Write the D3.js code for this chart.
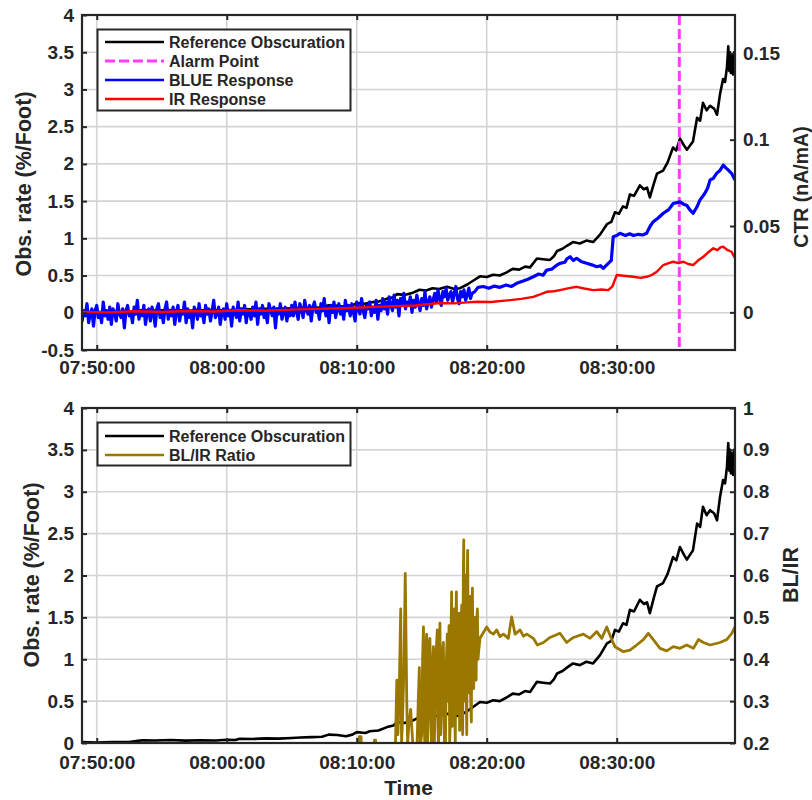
<!DOCTYPE html>
<html>
<head>
<meta charset="utf-8">
<script src="https://cdn.jsdelivr.net/npm/d3@7"></script>
<style>
  body { margin: 0; background: #fff; }
  svg text { font-family: "Liberation Sans", Arial, Helvetica, sans-serif; font-weight: bold; fill: #262626; }
</style>
</head>
<body>
<svg id="chart"></svg>
<script>
const w = 812;
const h = 800;

const parseTime = d3.timeParse("%H:%M:%S");

// x range and ticks
const timeRange = ["07:48:52", "08:39:06"];
const alarmTime = "08:34:49";

// top panel axes
const obsTicksTop = [-0.5, 0, 0.5, 1, 1.5, 2, 2.5, 3, 3.5, 4];
const ctrTicks = [0, 0.05, 0.1, 0.15];
const ctrRange = [-0.0218, 0.1722];
// bottom panel axes
const obsTicksBottom = [0, 0.5, 1, 1.5, 2, 2.5, 3, 3.5, 4];
const ratioTicks = [0.2, 0.3, 0.4, 0.5, 0.6, 0.7, 0.8, 0.9, 1];

// Reference Obscuration (%/Foot)
const obsData = [
  ["07:48:52",0.01],["07:50:00",0.005],["07:51:10",0.01],["07:52:30",0.012],["07:53:10",0.025],["07:53:30",0.032],
  ["07:54:30",0.03],["07:55:40",0.035],["07:56:50",0.028],["07:58:00",0.033],["07:59:10",0.03],["08:00:00",0.038],
  ["08:00:40",0.035],["08:01:00",0.05],["08:02:00",0.048],["08:03:00",0.055],["08:04:00",0.052],["08:05:00",0.06],
  ["08:05:40",0.065],["08:06:30",0.07],["08:07:20",0.075],["08:07:50",0.1],["08:08:30",0.095],["08:09:10",0.08],
  ["08:09:40",0.1],["08:10:00",0.13],["08:10:40",0.12],["08:11:00",0.14],["08:11:40",0.15],["08:12:20",0.19],
  ["08:12:50",0.21],["08:13:05",0.25],["08:13:40",0.24],["08:14:20",0.27],["08:14:50",0.31],["08:15:20",0.3],
  ["08:15:50",0.33],["08:16:20",0.32],["08:16:57",0.35],["08:17:30",0.32],["08:17:57",0.33],["08:18:30",0.38],
  ["08:18:57",0.43],["08:19:29",0.49],["08:20:00",0.48],["08:20:30",0.51],["08:21:00",0.5],["08:21:30",0.54],
  ["08:22:00",0.59],["08:22:30",0.58],["08:22:57",0.62],["08:23:20",0.61],["08:23:52",0.73],["08:24:20",0.72],
  ["08:24:52",0.71],["08:25:10",0.76],["08:25:25",0.83],["08:25:50",0.86],["08:26:10",0.9],["08:26:38",0.95],
  ["08:27:10",0.93],["08:27:40",0.97],["08:28:11",0.95],["08:28:43",1.05],["08:29:15",1.19],["08:29:35",1.22],
  ["08:29:52",1.35],["08:30:10",1.33],["08:30:29",1.43],["08:30:45",1.41],["08:31:01",1.59],["08:31:20",1.57],
  ["08:31:47",1.71],["08:32:05",1.66],["08:32:20",1.68],["08:32:33",1.55],["08:32:50",1.72],["08:33:06",1.87],
  ["08:33:34",1.91],["08:33:55",2.02],["08:34:20",2.22],["08:34:35",2.18],["08:34:52",2.34],["08:35:10",2.25],
  ["08:35:24",2.19],["08:35:52",2.3],["08:36:11",2.62],["08:36:25",2.58],["08:36:38",2.82],["08:36:55",2.72],
  ["08:37:11",2.78],["08:37:30",2.74],["08:37:43",2.66],["08:37:57",2.94],["08:38:11",3.14],["08:38:20",3.1],
  ["08:38:29",3.3],["08:38:35",3.58],["08:38:40",3.25],["08:38:43",3.5],["08:38:47",3.22],["08:38:51",3.46],
  ["08:38:57",3.2],["08:39:02",3.5],["08:39:06",3.4]
];

// BLUE response (CTR), noisy part sampled every 7.5 s from 07:48:45
const blueNoiseStart = "07:48:45";
const blueNoiseStepMs = 7500;
const blueNoise = [
  0.003,-0.005,0.001,-0.002,0.005,-0.006,-0.001,0.002,-0.008,0.001,0.004,-0.003,0.000,-0.006,0.006,-0.002,
  0.001,-0.004,0.003,-0.007,0.002,0.000,-0.005,0.005,-0.001,-0.003,0.002,-0.009,0.001,0.004,-0.002,0.000,
  -0.006,0.003,-0.001,0.007,-0.004,0.001,-0.002,0.004,-0.007,0.000,0.002,-0.005,0.003,-0.001,-0.008,0.002,
  0.005,-0.003,0.000,-0.006,0.002,0.006,-0.004,0.001,-0.002,0.003,-0.007,0.000,0.004,-0.005,0.001,-0.001,
  0.006,-0.006,0.002,-0.003,0.000,-0.009,0.003,0.001,-0.004,0.005,-0.002,0.000,-0.006,0.004,-0.001,0.002,
  -0.005,0.001,0.007,-0.003,-0.001,0.003,-0.007,0.000,0.002,-0.004,0.005,-0.002,0.001,-0.008,0.003,0.000,
  -0.003,0.006,-0.005,0.002,-0.001,0.004,-0.006,0.001,0.000,-0.004,0.003,-0.002,0.006,-0.007,0.002,-0.001,
  0.004,-0.003,0.000,-0.006,0.005,0.001,-0.002,0.003,-0.009,0.002,-0.001,0.005,-0.004,0.000,0.003,-0.005,
  0.001,-0.002,
  0.004,-0.002,0.006,0.000,-0.004,0.005,0.002,-0.003,0.007,0.001,-0.001,0.004,-0.005,0.003,0.006,0.000,
  0.002,-0.004,0.005,0.001,0.008,-0.002,0.003,-0.006,0.004,0.000,0.006,-0.003,0.002,0.005,-0.001,0.003,
  -0.004,0.007,0.001,0.004,-0.002,0.005,0.000,-0.005,0.006,0.002,-0.001,0.008,0.001,-0.003,0.004,0.002,
  0.006,-0.002,0.003,0.000,0.007,-0.004,0.004,0.001,
  0.008,0.002,0.006,-0.001,0.009,0.004,0.001,0.010,0.003,0.007,-0.002,0.008,0.005,0.011,0.002,0.006,
  0.004,0.009,0.000,0.007,0.003,0.010,0.005,0.001,0.008,0.004,0.012,0.002,0.006,0.009,0.003,0.007,
  0.011,0.006,0.013,0.008,0.004,0.012,0.009,0.014,0.007,0.010,0.012,0.006,0.011,0.015,0.008,0.005,
  0.012,0.009,0.013,0.007,0.010,0.014,0.008,0.011
];
const blueSmooth = [
  ["08:19:05",0.012],["08:19:20",0.0145],["08:19:44",0.0150],["08:20:10",0.0140],["08:20:35",0.0152],["08:21:01",0.0145],
  ["08:21:30",0.0158],["08:21:55",0.0150],["08:22:18",0.0168],["08:22:45",0.0180],["08:23:10",0.0192],["08:23:35",0.0206],
  ["08:24:00",0.0222],["08:24:20",0.0215],["08:24:37",0.0245],["08:25:00",0.0250],["08:25:20",0.0270],["08:25:38",0.0284],
  ["08:26:00",0.0290],["08:26:10",0.0310],["08:26:25",0.0322],["08:26:40",0.0300],["08:26:55",0.0313],["08:27:15",0.0295],
  ["08:27:41",0.0284],["08:28:05",0.0275],["08:28:28",0.0264],["08:28:45",0.0270],["08:28:58",0.0255],["08:29:21",0.0284],
  ["08:29:35",0.0300],["08:29:44",0.0438],["08:30:00",0.0445],["08:30:15",0.0458],["08:30:40",0.0445],["08:31:00",0.0455],
  ["08:31:17",0.0445],["08:31:40",0.0452],["08:32:00",0.0448],["08:32:18",0.0458],["08:32:35",0.0500],["08:32:49",0.0525],
  ["08:33:10",0.0545],["08:33:35",0.0574],["08:34:00",0.0595],["08:34:21",0.0630],["08:34:52",0.0640],["08:35:10",0.0625],
  ["08:35:23",0.0620],["08:35:40",0.0590],["08:35:53",0.0574],["08:36:10",0.0610],["08:36:24",0.0650],["08:36:47",0.0690],
  ["08:37:00",0.0720],["08:37:11",0.0767],["08:37:25",0.0775],["08:37:41",0.0805],["08:37:55",0.0820],["08:38:12",0.0853],
  ["08:38:25",0.0835],["08:38:35",0.0824],["08:38:50",0.0805],["08:39:06",0.0767]
];

// IR response (CTR)
const irData = [
  ["07:48:52",0.0003],["07:51:00",0.0000],["07:53:00",0.0006],["07:55:00",0.0002],["07:57:00",0.0008],["07:59:00",0.0005],
  ["08:01:00",0.0012],["08:03:00",0.0009],["08:05:00",0.0016],["08:07:00",0.0020],["08:09:00",0.0024],["08:11:00",0.0030],
  ["08:13:00",0.0036],["08:14:30",0.0040],["08:16:24",0.0054],["08:17:30",0.0052],["08:18:30",0.0058],["08:19:14",0.0061],
  ["08:20:20",0.0060],["08:21:48",0.0071],["08:22:40",0.0078],["08:23:35",0.0090],["08:24:10",0.0105],["08:24:37",0.0119],
  ["08:25:10",0.0122],["08:25:38",0.0129],["08:26:20",0.0140],["08:26:55",0.0148],["08:27:30",0.0138],["08:28:12",0.0129],
  ["08:28:50",0.0132],["08:29:21",0.0129],["08:29:40",0.0150],["08:30:00",0.0216],["08:30:30",0.0212],["08:31:17",0.0206],
  ["08:31:50",0.0200],["08:32:18",0.0206],["08:32:40",0.0215],["08:33:05",0.0235],["08:33:35",0.0274],["08:34:00",0.0285],
  ["08:34:21",0.0293],["08:34:45",0.0285],["08:35:08",0.0293],["08:35:30",0.0280],["08:35:53",0.0274],["08:36:15",0.0300],
  ["08:36:40",0.0322],["08:37:00",0.0345],["08:37:26",0.0371],["08:37:45",0.0360],["08:38:00",0.0378],["08:38:12",0.0380],
  ["08:38:30",0.0362],["08:38:50",0.0351],["08:39:06",0.0313]
];

// BL/IR ratio
const ratioData = [
  ["08:10:10",0.15],["08:10:12",0.215],["08:10:20",0.215],["08:10:22",0.15],["08:11:20",0.15],["08:11:22",0.207],
  ["08:11:27",0.207],["08:11:29",0.15],["08:12:57",0.15],["08:13:05",0.35],["08:13:10",0.22],["08:13:15",0.29],
  ["08:13:23",0.52],["08:13:27",0.2],["08:13:31",0.25],["08:13:38",0.38],["08:13:44",0.605],["08:13:51",0.30],
  ["08:13:55",0.2],["08:14:00",0.24],["08:14:09",0.28],["08:14:21",0.18],["08:14:37",0.17],["08:14:44",0.3],
  ["08:14:49",0.38],["08:14:53",0.19],["08:15:00",0.22],["08:15:04",0.4],["08:15:08",0.477],["08:15:12",0.25],
  ["08:15:15",0.18],["08:15:19",0.42],["08:15:23",0.46],["08:15:27",0.2],["08:15:30",0.25],["08:15:34",0.44],
  ["08:15:38",0.45],["08:15:42",0.3],["08:15:46",0.17],["08:15:50",0.38],["08:15:54",0.43],["08:15:58",0.19],
  ["08:16:01",0.27],["08:16:06",0.41],["08:16:12",0.47],["08:16:15",0.24],["08:16:18",0.18],["08:16:21",0.4],
  ["08:16:24",0.486],["08:16:28",0.22],["08:16:32",0.3],["08:16:36",0.42],["08:16:40",0.44],["08:16:45",0.2],
  ["08:16:49",0.17],["08:16:54",0.4],["08:16:58",0.46],["08:17:02",0.3],["08:17:06",0.48],["08:17:09",0.2],
  ["08:17:12",0.25],["08:17:15",0.45],["08:17:18",0.561],["08:17:21",0.24],["08:17:24",0.3],["08:17:28",0.47],
  ["08:17:31",0.52],["08:17:33",0.26],["08:17:35",0.2],["08:17:38",0.5],["08:17:40",0.561],["08:17:43",0.3],
  ["08:17:46",0.27],["08:17:49",0.46],["08:17:52",0.51],["08:17:55",0.23],["08:17:58",0.35],["08:18:02",0.5],
  ["08:18:05",0.53],["08:18:07",0.28],["08:18:09",0.22],["08:18:12",0.6],["08:18:14",0.685],["08:18:16",0.34],
  ["08:18:18",0.3],["08:18:21",0.55],["08:18:23",0.6],["08:18:26",0.3],["08:18:28",0.22],["08:18:30",0.58],
  ["08:18:32",0.66],["08:18:35",0.4],["08:18:37",0.32],["08:18:40",0.5],["08:18:43",0.55],["08:18:46",0.3],
  ["08:18:49",0.25],["08:18:52",0.52],["08:18:54",0.57],["08:18:57",0.38],["08:19:00",0.33],["08:19:03",0.47],
  ["08:19:06",0.5],["08:19:09",0.36],["08:19:11",0.35],["08:19:14",0.49],["08:19:17",0.52],["08:19:20",0.4],
  ["08:19:23",0.42],["08:19:29",0.45],["08:20:00",0.477],["08:20:15",0.465],
  ["08:20:31",0.46],["08:20:46",0.47],["08:21:01",0.454],["08:21:17",0.46],["08:21:40",0.45],["08:21:55",0.501],
  ["08:22:11",0.46],["08:22:34",0.47],["08:22:49",0.455],["08:23:05",0.46],["08:23:35",0.45],["08:23:54",0.434],
  ["08:24:22",0.44],["08:24:52",0.452],["08:25:38",0.462],["08:26:09",0.44],["08:26:40",0.452],["08:27:26",0.46],
  ["08:27:57",0.45],["08:28:28",0.466],["08:28:51",0.45],["08:29:14",0.477],["08:29:37",0.447],["08:29:52",0.43],
  ["08:30:31",0.418],["08:31:01",0.422],["08:31:32",0.434],["08:32:03",0.447],["08:32:26",0.462],["08:32:49",0.447],
  ["08:33:20",0.426],["08:33:51",0.42],["08:34:21",0.43],["08:34:52",0.426],["08:35:23",0.434],["08:35:54",0.426],
  ["08:36:17",0.447],["08:36:40",0.44],["08:37:11",0.434],["08:37:57",0.44],["08:38:28",0.447],["08:38:51",0.462],
  ["08:39:06",0.477]
];

const axisColor = "#262626";
const gridColor = "#d4d4d4";

const svg = d3.select("#chart")
  .attr("width", w)
  .attr("height", h)
  .attr("viewBox", [0, 0, w, h]);

const left = 82, right = 735;
const panels = [
  { top: 15, bottom: 350, id: "top", labelPad: 11 },
  { top: 408, bottom: 743, id: "bot", labelPad: 13 }
];

const x = d3.scaleTime()
  .domain(timeRange.map(parseTime))
  .range([left, right]);

const xTicks = d3.timeMinute.every(10);
const xFormat = d3.timeFormat("%H:%M:%S");
const numFormat = d => String(d);

const yTopL = d3.scaleLinear().domain([-0.5, 4]).range([panels[0].bottom, panels[0].top]);
const yTopR = d3.scaleLinear().domain(ctrRange).range([panels[0].bottom, panels[0].top]);
const yBotL = d3.scaleLinear().domain([0, 4]).range([panels[1].bottom, panels[1].top]);
const yBotR = d3.scaleLinear().domain([0.2, 1]).range([panels[1].bottom, panels[1].top]);

const toDates = data => data.map(d => [parseTime(d[0]), d[1]]);

function styleAxis(g, fontSize) {
  g.select(".domain").remove();
  g.selectAll(".tick line").attr("stroke", axisColor).attr("stroke-width", 2);
  g.selectAll(".tick text")
    .attr("font-size", fontSize)
    .style("font-family", "'Liberation Sans', Arial, sans-serif")
    .style("font-weight", "bold")
    .attr("fill", axisColor);
}

function makeGrid(p, yScale, yTickVals) {
  const grid = svg.append("g");
  grid.selectAll("line.h")
    .data(yTickVals)
    .enter()
    .append("line")
    .attr("x1", left).attr("x2", right)
    .attr("y1", d => yScale(d)).attr("y2", d => yScale(d))
    .attr("stroke", gridColor)
    .attr("stroke-width", 1.6);
  grid.selectAll("line.v")
    .data(x.ticks(xTicks))
    .enter()
    .append("line")
    .attr("x1", d => x(d)).attr("x2", d => x(d))
    .attr("y1", p.top).attr("y2", p.bottom)
    .attr("stroke", gridColor)
    .attr("stroke-width", 1.6);
}

function makeAxes(p, yL, yLTicks, yR, yRTicks) {
  svg.append("g")
    .attr("transform", `translate(0,${p.bottom})`)
    .call(d3.axisBottom(x).ticks(xTicks).tickFormat(xFormat).tickSize(-5).tickSizeOuter(0).tickPadding(p.labelPad))
    .call(g => styleAxis(g, 19));
  svg.append("g")
    .attr("transform", `translate(0,${p.top})`)
    .call(d3.axisTop(x).ticks(xTicks).tickFormat("").tickSize(-5).tickSizeOuter(0))
    .call(g => styleAxis(g, 19));
  svg.append("g")
    .attr("transform", `translate(${left},0)`)
    .call(d3.axisLeft(yL).tickValues(yLTicks).tickFormat(numFormat).tickSize(-5).tickSizeOuter(0).tickPadding(8))
    .call(g => styleAxis(g, 19));
  svg.append("g")
    .attr("transform", `translate(${right},0)`)
    .call(d3.axisRight(yR).tickValues(yRTicks).tickFormat(numFormat).tickSize(-5).tickSizeOuter(0).tickPadding(8))
    .call(g => styleAxis(g, 19));
  svg.append("rect")
    .attr("x", left).attr("y", p.top)
    .attr("width", right - left).attr("height", p.bottom - p.top)
    .attr("fill", "none")
    .attr("stroke", axisColor)
    .attr("stroke-width", 2.2);
}

function clipFor(p) {
  svg.append("clipPath")
    .attr("id", "clip-" + p.id)
    .append("rect")
    .attr("x", left).attr("y", p.top)
    .attr("width", right - left).attr("height", p.bottom - p.top);
  return svg.append("g").attr("clip-path", `url(#clip-${p.id})`);
}

function drawLine(g, data, yScale, color, width) {
  const line = d3.line()
    .x(d => x(d[0]))
    .y(d => yScale(d[1]));
  g.append("path")
    .datum(data)
    .attr("d", line)
    .attr("fill", "none")
    .attr("stroke", color)
    .attr("stroke-width", width)
    .attr("stroke-linejoin", "round");
}

function legend(p, items, rowTop) {
  const lg = svg.append("g");
  lg.append("rect")
    .attr("x", 97.5).attr("y", p.top + 14.5)
    .attr("width", 253).attr("height", items.length * 19 + 5)
    .attr("fill", "#fff")
    .attr("stroke", axisColor)
    .attr("stroke-width", 2);
  items.forEach((it, i) => {
    const yy = p.top + rowTop + i * 19;
    lg.append("line")
      .attr("x1", 105).attr("x2", 164)
      .attr("y1", yy).attr("y2", yy)
      .attr("stroke", it.color)
      .attr("stroke-width", it.width)
      .attr("stroke-dasharray", it.dash || null);
    lg.append("text")
      .attr("x", 169).attr("y", yy + 5.8)
      .attr("font-size", 16)
      .text(it.label);
  });
}

// ---------- top panel ----------
const pT = panels[0];
makeGrid(pT, yTopL, obsTicksTop);
const gT = clipFor(pT);
drawLine(gT, toDates(obsData), yTopL, "#000", 2.6);
gT.append("line")
  .attr("x1", x(parseTime(alarmTime))).attr("x2", x(parseTime(alarmTime)))
  .attr("y1", pT.top).attr("y2", pT.bottom)
  .attr("stroke", "#ff3cff")
  .attr("stroke-width", 3)
  .attr("stroke-dasharray", "10,4");
const t0 = parseTime(blueNoiseStart);
const blueAll = blueNoise.map((v, i) => [d3.timeMillisecond.offset(t0, i * blueNoiseStepMs), v])
  .concat(toDates(blueSmooth));
drawLine(gT, blueAll, yTopR, "#0000ff", 3.2);
drawLine(gT, toDates(irData), yTopR, "#ff0000", 2.4);
makeAxes(pT, yTopL, obsTicksTop, yTopR, ctrTicks);
legend(pT, [
  { label: "Reference Obscuration", color: "#000", width: 2.5 },
  { label: "Alarm Point", color: "#ff3cff", width: 3, dash: "10,4" },
  { label: "BLUE Response", color: "#0000ff", width: 2.5 },
  { label: "IR Response", color: "#ff0000", width: 2.5 }
], 27);

// ---------- bottom panel ----------
const pB = panels[1];
makeGrid(pB, yBotL, obsTicksBottom);
const gB = clipFor(pB);
drawLine(gB, toDates(obsData), yBotL, "#000", 2.6);
drawLine(gB, toDates(ratioData), yBotR, "#9a7800", 2.8);
makeAxes(pB, yBotL, obsTicksBottom, yBotR, ratioTicks);
legend(pB, [
  { label: "Reference Obscuration", color: "#000", width: 2.5 },
  { label: "BL/IR Ratio", color: "#9a7800", width: 2.5 }
], 28);

// ---------- axis titles ----------
function vLabel(xx, yy, txt, size) {
  svg.append("text")
    .attr("transform", `translate(${xx},${yy}) rotate(-90)`)
    .attr("text-anchor", "middle")
    .attr("dy", "0.35em")
    .attr("font-size", size)
    .text(txt);
}
vLabel(23, 184, "Obs. rate (%/Foot)", 21.5);
vLabel(31, 575, "Obs. rate (%/Foot)", 21.5);
vLabel(801, 187, "CTR (nA/mA)", 19.5);
vLabel(790, 575, "BL/IR", 21.5);
svg.append("text")
  .attr("x", (left + right) / 2)
  .attr("y", 795)
  .attr("text-anchor", "middle")
  .attr("font-size", 21)
  .text("Time");
</script>
</body>
</html>
